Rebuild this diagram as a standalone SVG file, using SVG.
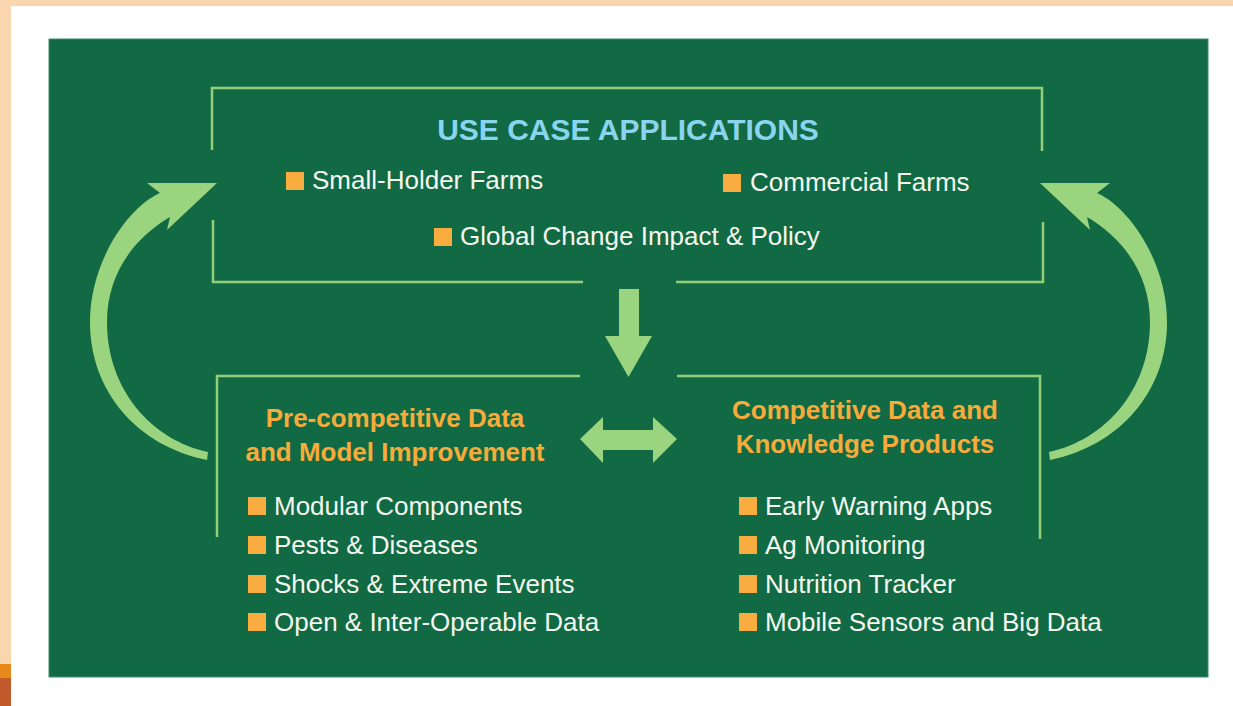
<svg xmlns="http://www.w3.org/2000/svg" width="1233" height="706" viewBox="0 0 1233 706">
  <style>
    .frame { fill: none; stroke: #93cf7a; stroke-width: 2.5; }
    .arrow { fill: #9bd47f; }
    .title { font-family: "Liberation Sans", Arial, sans-serif; font-weight: bold; font-size: 30px; fill: #8bd4ef; text-anchor: middle; }
    .head { font-family: "Liberation Sans", Arial, sans-serif; font-weight: bold; font-size: 26px; fill: #f6ab3b; text-anchor: middle; }
    .item { font-family: "Liberation Sans", Arial, sans-serif; font-size: 26px; fill: #f4f6ef; }
    .bullet { fill: #f9ac3f; }
  </style>

  <!-- page edge -->
  <g id="page">
    <rect x="0" y="0" width="1233" height="706" fill="#ffffff"/>
    <rect x="0" y="0" width="1233" height="6" fill="#f9d6ad"/>
    <rect x="0" y="0" width="11" height="664" fill="#f9d6ad"/>
    <rect x="0" y="664" width="11" height="14" fill="#e8891b"/>
    <rect x="0" y="678" width="11" height="28" fill="#c15a2b"/>
  </g>

  <!-- green panel -->
  <rect id="panel" x="49" y="39" width="1159" height="638" fill="#116a43" stroke="#3f8a66" stroke-width="1"/>

  <!-- top block: use case applications -->
  <g id="use-cases">
    <path class="frame" d="M212,150 V88 H1042 V151"/>
    <path class="frame" d="M213,220 V282 H583"/>
    <path class="frame" d="M676,282 H1043 V222"/>
    <text class="title" x="628" y="140">USE CASE APPLICATIONS</text>
    <rect class="bullet" x="286" y="172" width="18" height="18"/>
    <text class="item" x="312" y="189">Small-Holder Farms</text>
    <rect class="bullet" x="723" y="174" width="18" height="18"/>
    <text class="item" x="750" y="191">Commercial Farms</text>
    <rect class="bullet" x="434" y="228" width="18" height="18"/>
    <text class="item" x="460" y="245">Global Change Impact &amp; Policy</text>
  </g>

  <!-- lower left block -->
  <g id="precompetitive">
    <path class="frame" d="M580,376 H217 V537"/>
    <text class="head" x="395" y="427">Pre-competitive Data</text>
    <text class="head" x="395" y="461">and Model Improvement</text>
    <rect class="bullet" x="248" y="497" width="18" height="18"/>
    <text class="item" x="274" y="515">Modular Components</text>
    <rect class="bullet" x="248" y="536" width="18" height="18"/>
    <text class="item" x="274" y="554">Pests &amp; Diseases</text>
    <rect class="bullet" x="248" y="575" width="18" height="18"/>
    <text class="item" x="274" y="593">Shocks &amp; Extreme Events</text>
    <rect class="bullet" x="248" y="613" width="18" height="18"/>
    <text class="item" x="274" y="631">Open &amp; Inter-Operable Data</text>
  </g>

  <!-- lower right block -->
  <g id="competitive">
    <path class="frame" d="M677,376 H1040 V539"/>
    <text class="head" x="865" y="419">Competitive Data and</text>
    <text class="head" x="865" y="453">Knowledge Products</text>
    <rect class="bullet" x="739" y="497" width="18" height="18"/>
    <text class="item" x="765" y="515">Early Warning Apps</text>
    <rect class="bullet" x="739" y="536" width="18" height="18"/>
    <text class="item" x="765" y="554">Ag Monitoring</text>
    <rect class="bullet" x="739" y="575" width="18" height="18"/>
    <text class="item" x="765" y="593">Nutrition Tracker</text>
    <rect class="bullet" x="739" y="613" width="18" height="18"/>
    <text class="item" x="765" y="631">Mobile Sensors and Big Data</text>
  </g>

  <!-- connectors -->
  <g id="connectors">
    <polygon class="arrow" points="619,289 639,289 639,336 652,336 628.5,377 605,336 619,336"/>
    <polygon class="arrow" points="580,439 603,417 603,430 653,430 653,417 677,439 653,463 653,450 603,450 603,463"/>
    <path id="loop-left" class="arrow" d="M217,183 L147,183 L160,193 C128,207 90,262 90,322 C90,392 138,446 207,460 L208,452 C152,440 107,390 107,322 C107,274 134,238 170,217 L167,230 Z"/>
    <path id="loop-right" class="arrow" transform="translate(1257,0) scale(-1,1)" d="M217,183 L147,183 L160,193 C128,207 90,262 90,322 C90,392 138,446 207,460 L208,452 C152,440 107,390 107,322 C107,274 134,238 170,217 L167,230 Z"/>
  </g>
</svg>
